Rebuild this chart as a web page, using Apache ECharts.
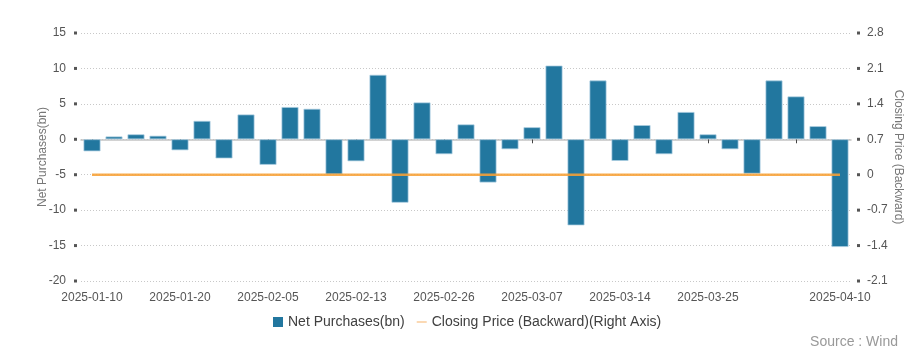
<!DOCTYPE html>
<html>
<head>
<meta charset="utf-8">
<script src="https://cdn.jsdelivr.net/npm/echarts@6/dist/echarts.min.js"></script>
<style>html,body{margin:0;padding:0;background:#fff;}#chart{width:910px;height:355px;}</style>
</head>
<body>
<div id="chart"></div>
<script>
const dates = ['2025-01-10','2025-01-13','2025-01-15','2025-01-17','2025-01-20','2025-01-22','2025-01-24','2025-01-27',
  '2025-02-05','2025-02-07','2025-02-10','2025-02-12','2025-02-13','2025-02-17','2025-02-19','2025-02-21',
  '2025-02-26','2025-02-28','2025-03-03','2025-03-05','2025-03-07','2025-03-10','2025-03-11','2025-03-12',
  '2025-03-14','2025-03-17','2025-03-19','2025-03-21','2025-03-25','2025-03-27','2025-03-31','2025-04-02',
  '2025-04-07','2025-04-08','2025-04-10'];
const netPurchases = [-1.7, 0.4, 0.7, 0.5, -1.55, 2.6, -2.7, 3.5, -3.6, 4.55, 4.3, -4.95, -3.1, 9.1, -8.95, 5.2,
  -2.1, 2.1, -6.1, -1.4, 1.7, 10.4, -12.15, 8.3, -3.05, 2.0, -2.1, 3.85, 0.7, -1.4, -4.85, 8.3, 6.05, 1.85, -15.2];
const closingPrice = [0, 0, 0, 0, 0, 0, 0, 0, 0, 0, 0, 0, 0, 0, 0, 0, 0, 0, 0, 0, 0, 0, 0, 0, 0, 0, 0, 0, 0, 0, 0, 0, 0, 0, 0];
const leftTicks = { min: -20, max: 15, interval: 5 };
const rightTicks = { min: -2.1, max: 2.8, interval: 0.7 };
const shownLabelIdx = [0, 4, 8, 12, 16, 20, 24, 28, 34];
const barName = 'Net Purchases(bn)';
const lineName = 'Closing Price (Backward)(Right Axis)';

const FONT = "'Liberation Sans', Arial, sans-serif";
const chart = echarts.init(document.getElementById('chart'), null, { renderer: 'canvas' });
const sqRich = {
  g: { width: 8 },
  g2: { width: 7 },
  s: { width: 3, height: 3, backgroundColor: '#555' }
};
const fmt1 = v => String(Math.round(v * 10) / 10);
const lineIcon = 'path://M0,0h0.01v0.01h-0.01z M0,4.5h10v1h-10z M9.99,9.99h0.01v0.01h-0.01z';
chart.setOption({
  animation: false,
  textStyle: { fontFamily: FONT },
  grid: { left: 81, right: 59, top: 33, bottom: 74, containLabel: false, outerBoundsMode: 'none' },
  legend: {
    left: 273, top: 315, padding: 0, itemWidth: 10, itemHeight: 10, itemGap: 12,
    textStyle: { fontSize: 14, color: '#404040', fontFamily: FONT },
    data: [
      { name: barName, icon: 'rect', itemStyle: { color: '#22779f', borderWidth: 0 } },
      { name: lineName, icon: lineIcon, itemStyle: { color: '#f7b46a', borderWidth: 0 } }
    ]
  },
  xAxis: [
    {
      type: 'category', data: dates, position: 'bottom',
      axisLine: { show: false, onZero: false },
      axisTick: { show: false },
      axisLabel: {
        interval: (i) => shownLabelIdx.indexOf(i) >= 0,
        color: '#555', fontSize: 12, margin: 11, fontFamily: FONT
      }
    },
    {
      type: 'category', data: dates, position: 'bottom',
      axisLine: { show: true, onZero: true, lineStyle: { color: '#c4c4c4', width: 1.5 } },
      axisTick: { show: true, alignWithLabel: true, interval: (i) => i % 4 === 0, length: 4, lineStyle: { color: '#444', width: 1 } },
      axisLabel: { show: false }
    }
  ],
  yAxis: [
    {
      type: 'value', position: 'left',
      min: leftTicks.min, max: leftTicks.max, interval: leftTicks.interval,
      name: 'Net Purchases(bn)', nameLocation: 'middle', nameGap: 32, nameRotate: 90, nameMoveOverlap: false,
      nameTextStyle: { color: '#777', fontSize: 12, fontFamily: FONT },
      axisLine: { show: false }, axisTick: { show: false },
      splitLine: { show: true, lineStyle: { color: '#c8c8c8', type: [1, 2], width: 1 } },
      axisLabel: {
        color: '#555', fontSize: 12, margin: 4, fontFamily: FONT,
        formatter: v => v + '{g|}{s|}', rich: sqRich
      }
    },
    {
      type: 'value', position: 'right',
      min: rightTicks.min, max: rightTicks.max, interval: rightTicks.interval,
      name: 'Closing Price (Backward)', nameLocation: 'middle', nameGap: 41, nameRotate: -90, nameMoveOverlap: false,
      nameTextStyle: { color: '#777', fontSize: 12, fontFamily: FONT },
      axisLine: { show: false }, axisTick: { show: false },
      splitLine: { show: false },
      axisLabel: {
        color: '#555', fontSize: 12, margin: 6, fontFamily: FONT,
        formatter: v => '{s|}{g2|}' + fmt1(v), rich: sqRich
      }
    }
  ],
  series: [
    {
      name: barName, type: 'bar', xAxisIndex: 0, yAxisIndex: 0,
      data: netPurchases, barWidth: 17,
      itemStyle: { color: '#22779f', borderColor: 'rgba(170,205,225,0.9)', borderWidth: 0.8 }
    },
    {
      name: lineName, type: 'line', xAxisIndex: 0, yAxisIndex: 1,
      data: closingPrice, symbol: 'none', showSymbol: false,
      itemStyle: { color: '#f7a035' },
      lineStyle: { color: '#f7a035', width: 2.5, opacity: 0.88 }
    }
  ],
  graphic: [
    { type: 'text', right: 12, top: 335, style: { text: 'Source : Wind', fill: '#999', font: '14px ' + FONT } }
  ]
});
</script>
</body>
</html>
